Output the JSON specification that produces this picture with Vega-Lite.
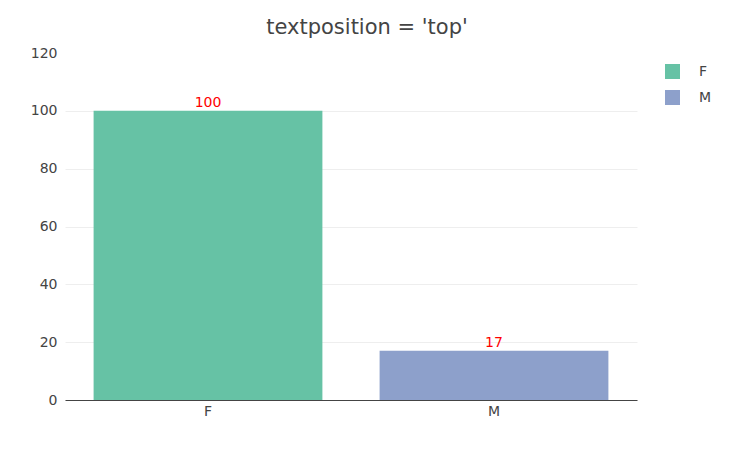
{
  "$schema": "https://vega.github.io/schema/vega-lite/v6.json",
  "width": 572,
  "height": 347,
  "autosize": {"type": "none"},
  "padding": {"left": 65, "top": 53, "right": 92, "bottom": 49},
  "background": "white",
  "title": {"text": "textposition = 'top'", "font": "DejaVu Sans", "fontSize": 21, "fontWeight": "normal", "color": "#444", "anchor": "middle", "frame": "group", "offset": 8, "dx": 16},
  "data": {"values": [{"sex": "F", "count": 100}, {"sex": "M", "count": 17}]},
  "config": {"view": {"stroke": null}, "font": "DejaVu Sans"},
  "encoding": {
    "x": {"field": "sex", "type": "nominal", "scale": {"paddingInner": 0.2, "paddingOuter": 0.1}, "axis": {"title": null, "labelAngle": 0, "labelFont": "DejaVu Sans", "labelFontSize": 14, "labelColor": "#444", "ticks": false, "domainColor": "#444", "labelPadding": 4}},
    "y": {"field": "count", "type": "quantitative", "scale": {"domain": [0, 120], "nice": false}, "axis": {"title": null, "values": [0, 20, 40, 60, 80, 100, 120], "labelFont": "DejaVu Sans", "labelFontSize": 14, "labelColor": "#444", "ticks": false, "domain": false, "labelPadding": 8, "gridColor": {"condition": {"test": "datum.value >= 120", "value": "transparent"}, "value": "#eee"}}}
  },
  "layer": [
    {"mark": {"type": "bar"}, "encoding": {"color": {"field": "sex", "type": "nominal", "scale": {"range": ["#66c2a5", "#8da0cb"]}, "legend": {"title": null, "orient": "none", "legendX": 600, "legendY": 11, "symbolType": "square", "symbolSize": 225, "symbolStrokeWidth": 0, "labelFont": "DejaVu Sans", "labelFontSize": 14, "labelColor": "#444", "labelOffset": 19, "rowPadding": 11, "padding": 0}}}},
    {"mark": {"type": "text", "baseline": "bottom", "dy": -1, "color": "red", "fontSize": 14, "font": "DejaVu Sans"}, "encoding": {"text": {"field": "count", "type": "quantitative"}}}
  ]
}
